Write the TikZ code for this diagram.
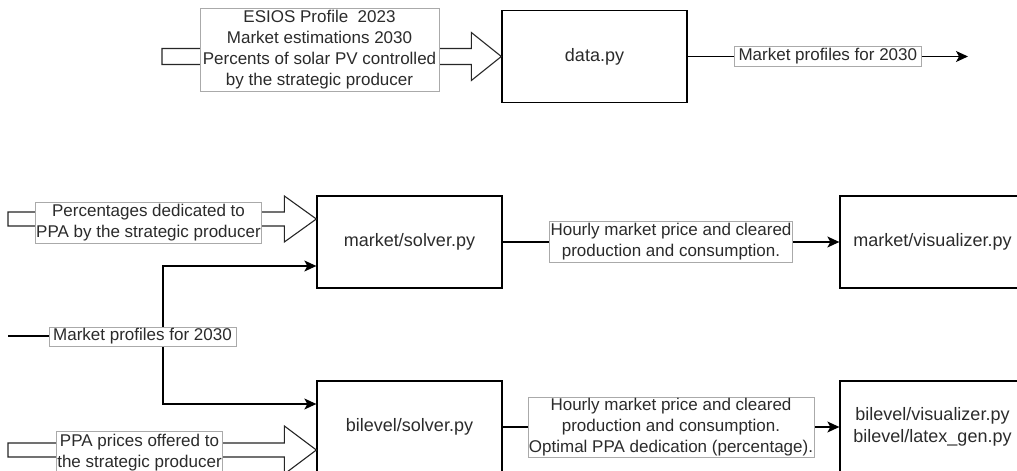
\documentclass[tikz,border=0pt]{standalone}
\usepackage{fontspec}
\setmainfont{Liberation Sans}
\usepackage{tikz}
\usetikzlibrary{arrows.meta, positioning, calc}
\definecolor{textgrey}{HTML}{2B2B2B}
\definecolor{tagborder}{HTML}{AAAAAA}

\tikzset{
  script/.style={draw, line width=1.3pt, minimum width=185pt, minimum height=92pt,
    font=\fontsize{18}{22}\selectfont, align=center, text=textgrey},
  tag/.style={draw=tagborder, line width=0.7pt, fill=white, inner sep=1pt,
    font=\fontsize{17}{21}\selectfont, align=center, text=textgrey},
  flow/.style={line width=1.3pt, -{Stealth[length=12pt,width=11pt,inset=3pt]}},
  plain/.style={line width=1.3pt},
  hollow/.style={draw=black!85, line width=1.1pt, fill=white, line join=miter}
}

% wide outlined arrow: start, tip, shaft half width, head half width, head length
\newcommand{\hollowarrow}[5]{%
  \draw[hollow] let \p1=(#1), \p2=(#2) in
    (\x1,\y2+#3) -- (\x2-#5,\y2+#3) -- (\x2-#5,\y2+#4) -- (\x2,\y2)
    -- (\x2-#5,\y2-#4) -- (\x2-#5,\y2-#3) -- (\x1,\y2-#3) -- cycle;}

\begin{document}
\begin{tikzpicture}[x=1pt, y=1pt]
  \clip (0,0) rectangle (1017,471);

  % scripts
  \node[script] (data) at (594.5,414.5) {data.py};
  \node[script] (msolver) at (409.5,229) {market/solver.py};
  \node[script] (mvis) at (932.5,229) {market/visualizer.py};
  \node[script] (bsolver) at (409.5,44) {bilevel/solver.py};
  \node[script] (bvis) at (932.5,44) {bilevel/visualizer.py\\bilevel/latex\_gen.py};

  % inputs
  \coordinate (dataSrc) at (162,415);
  \coordinate (pctSrc) at (8,252);
  \coordinate (ppaSrc) at (8,21);
  \coordinate (pctTip) at ([yshift=23pt]msolver.west);
  \coordinate (ppaTip) at ([yshift=-23pt]bsolver.west);
  \hollowarrow{dataSrc}{data.west}{8pt}{24pt}{30pt}
  \hollowarrow{pctSrc}{pctTip}{7pt}{23pt}{32pt}
  \hollowarrow{ppaSrc}{ppaTip}{7pt}{24pt}{32pt}

  \node[tag, minimum width=239pt, minimum height=83pt] (dataIn) at (319.5,421.5)
    {ESIOS Profile~ 2023\\Market estimations 2030\\Percents of solar PV controlled\\by the strategic producer};
  \node[tag, minimum width=223pt, minimum height=41pt] (pctIn) at (148.5,248.5)
    {Percentages dedicated to\\PPA by the strategic producer};
  \node[tag, minimum width=165pt, minimum height=42pt] (ppaIn) at (139.5,18.5)
    {PPA prices offered to\\the strategic producer};

  % market profiles feeding both solvers
  \coordinate (mpSrc) at (8,135);
  \coordinate (split) at (163,135);
  \coordinate (msIn) at ([yshift=-24pt]msolver.west);
  \coordinate (bsIn) at ([yshift=23pt]bsolver.west);
  \draw[plain] (mpSrc) -- (split);
  \draw[flow] (split) |- (msIn);
  \draw[flow] (split) |- (bsIn);
  \node[tag, minimum width=187pt, minimum height=19pt] (mpIn) at (142.5,134.5) {Market profiles for 2030};

  % outputs
  \coordinate (dataOut) at (968,414.5);
  \draw[flow] (data.east) -- (dataOut)
    node[tag, midway, minimum width=187pt, minimum height=20pt] (profiles) {Market profiles for 2030};
  \draw[flow] (msolver.east) -- (mvis.west)
    node[tag, midway, minimum width=240pt, minimum height=41pt] (mres)
    {Hourly market price and cleared\\production and consumption.};
  \draw[flow] (bsolver.east) -- (bvis.west)
    node[tag, midway, minimum width=282pt, minimum height=59pt] (bres)
    {Hourly market price and cleared\\production and consumption.\\Optimal PPA dedication (percentage).};
\end{tikzpicture}
\end{document}
